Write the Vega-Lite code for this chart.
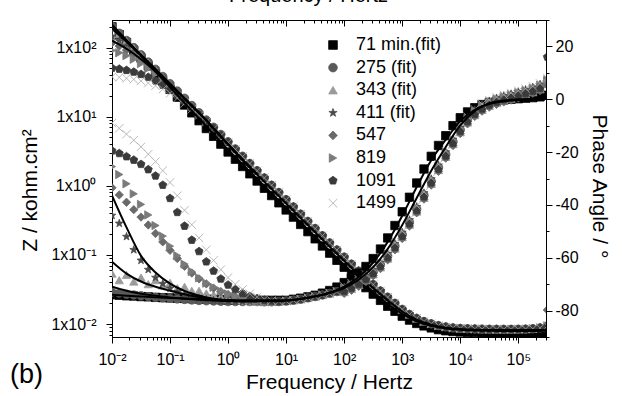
{
"$schema":"https://vega.github.io/schema/vega-lite/v6.json",
"width":434,"height":317,
"autosize":{"type":"none"},
"padding":{"left":112,"top":20,"right":76,"bottom":59},
"background":"white",
"config":{"view":{"stroke":"black","strokeWidth":1},
"axis":{"labelFont":"Liberation Sans","titleFont":"Liberation Sans","labelColor":"black","titleColor":"black","titleFontWeight":"normal","domainColor":"black","tickColor":"black","grid":false,"labelFontSize":16,"titleFontSize":21,"labelOverlap":false,"labelFlush":false},
"legend":{"labelFont":"Liberation Sans","labelColor":"black"},
"title":{"font":"Liberation Sans","fontWeight":"normal","color":"black"}},
"title":{"text":"(b)","orient":"bottom","anchor":"start","frame":"group","fontSize":27,"dx":-102,"offset":-30},
"datasets":{
"d":[
{"s":"71","f":0.01,"z":199.8,"p":-74},{"s":"71","f":0.01334,"z":153.9,"p":-74.2},{"s":"71","f":0.01778,"z":118.6,"p":-74.4},{"s":"71","f":0.02371,"z":91.3,"p":-74.5},{"s":"71","f":0.03162,"z":70.4,"p":-74.7},{"s":"71","f":0.04217,"z":54.2,"p":-74.8},{"s":"71","f":0.05623,"z":41.8,"p":-75},{"s":"71","f":0.07499,"z":32.2,"p":-75.1},{"s":"71","f":0.1,"z":24.8,"p":-75.2},{"s":"71","f":0.1334,"z":19.1,"p":-75.3},{"s":"71","f":0.1778,"z":14.72,"p":-75.4},{"s":"71","f":0.2371,"z":11.35,"p":-75.5},{"s":"71","f":0.3162,"z":8.74,"p":-75.6},{"s":"71","f":0.4217,"z":6.73,"p":-75.7},{"s":"71","f":0.5623,"z":5.19,"p":-75.8},{"s":"71","f":0.7499,"z":4,"p":-75.9},{"s":"71","f":1,"z":3.08,"p":-76},{"s":"71","f":1.334,"z":2.42,"p":-76.1},{"s":"71","f":1.778,"z":1.9,"p":-76.1},{"s":"71","f":2.371,"z":1.49,"p":-76.1},{"s":"71","f":3.162,"z":1.171,"p":-76.1},{"s":"71","f":4.217,"z":0.92,"p":-76.1},{"s":"71","f":5.623,"z":0.722,"p":-76.1},{"s":"71","f":7.499,"z":0.567,"p":-76.1},{"s":"71","f":10,"z":0.447,"p":-76.1},{"s":"71","f":13.34,"z":0.352,"p":-75.7},{"s":"71","f":17.78,"z":0.276,"p":-75.3},{"s":"71","f":23.71,"z":0.217,"p":-74.8},{"s":"71","f":31.62,"z":0.171,"p":-74.2},{"s":"71","f":42.17,"z":0.1346,"p":-73.4},{"s":"71","f":56.23,"z":0.106,"p":-72.4},{"s":"71","f":74.99,"z":0.0836,"p":-71.1},{"s":"71","f":100,"z":0.0663,"p":-69.4},{"s":"71","f":133.4,"z":0.0526,"p":-67.8},{"s":"71","f":177.8,"z":0.0419,"p":-65.8},{"s":"71","f":237.1,"z":0.0336,"p":-63.3},{"s":"71","f":316.2,"z":0.0271,"p":-60.3},{"s":"71","f":421.7,"z":0.022,"p":-56.7},{"s":"71","f":562.3,"z":0.0181,"p":-52.5},{"s":"71","f":749.9,"z":0.0153,"p":-47.8},{"s":"71","f":1000,"z":0.013,"p":-42.6},{"s":"71","f":1334,"z":0.0114,"p":-37.1},{"s":"71","f":1778,"z":0.0102,"p":-31.7},{"s":"71","f":2371,"z":0.0094,"p":-26.4},{"s":"71","f":3162,"z":0.0088,"p":-21.6},{"s":"71","f":4217,"z":0.0083,"p":-17.5},{"s":"71","f":5623,"z":0.008,"p":-13.8},{"s":"71","f":7499,"z":0.0078,"p":-10},{"s":"71","f":10000,"z":0.00768,"p":-7},{"s":"71","f":13340,"z":0.0076,"p":-4.8},{"s":"71","f":17780,"z":0.00752,"p":-3.2},{"s":"71","f":23710,"z":0.00748,"p":-2},{"s":"71","f":31620,"z":0.00745,"p":-1.2},{"s":"71","f":42170,"z":0.00742,"p":-0.7},{"s":"71","f":56230,"z":0.0074,"p":-0.3},{"s":"71","f":74990,"z":0.0074,"p":0},{"s":"71","f":100000,"z":0.0074,"p":0.2},{"s":"71","f":133400,"z":0.0074,"p":0.4},{"s":"71","f":177800,"z":0.0074,"p":0.6},{"s":"71","f":237100,"z":0.0074,"p":0.9},{"s":"71","f":316200,"z":0.00745,"p":1.5},
{"s":"275","f":0.01,"z":204.1,"p":-73},{"s":"275","f":0.01334,"z":161,"p":-73.4},{"s":"275","f":0.01778,"z":126.8,"p":-73.8},{"s":"275","f":0.02371,"z":99.85,"p":-74.1},{"s":"275","f":0.03162,"z":78.55,"p":-74.4},{"s":"275","f":0.04217,"z":61.77,"p":-74.7},{"s":"275","f":0.05623,"z":48.56,"p":-75},{"s":"275","f":0.07499,"z":38.16,"p":-75.2},{"s":"275","f":0.1,"z":30,"p":-75.4},{"s":"275","f":0.1334,"z":23.55,"p":-75.6},{"s":"275","f":0.1778,"z":18.5,"p":-75.8},{"s":"275","f":0.2371,"z":14.53,"p":-76},{"s":"275","f":0.3162,"z":11.42,"p":-76.2},{"s":"275","f":0.4217,"z":8.96,"p":-76.3},{"s":"275","f":0.5623,"z":7.04,"p":-76.4},{"s":"275","f":0.7499,"z":5.53,"p":-76.5},{"s":"275","f":1,"z":4.343,"p":-76.6},{"s":"275","f":1.334,"z":3.412,"p":-76.6},{"s":"275","f":1.778,"z":2.679,"p":-76.6},{"s":"275","f":2.371,"z":2.104,"p":-76.6},{"s":"275","f":3.162,"z":1.652,"p":-76.6},{"s":"275","f":4.217,"z":1.298,"p":-76.7},{"s":"275","f":5.623,"z":1.02,"p":-76.7},{"s":"275","f":7.499,"z":0.8015,"p":-76.6},{"s":"275","f":10,"z":0.63,"p":-76.4},{"s":"275","f":13.34,"z":0.495,"p":-76.1},{"s":"275","f":17.78,"z":0.389,"p":-75.7},{"s":"275","f":23.71,"z":0.306,"p":-75.2},{"s":"275","f":31.62,"z":0.241,"p":-74.7},{"s":"275","f":42.17,"z":0.1896,"p":-74.1},{"s":"275","f":56.23,"z":0.1493,"p":-73.5},{"s":"275","f":74.99,"z":0.1178,"p":-72.8},{"s":"275","f":100,"z":0.093,"p":-72},{"s":"275","f":133.4,"z":0.0736,"p":-70.8},{"s":"275","f":177.8,"z":0.0584,"p":-69.3},{"s":"275","f":237.1,"z":0.0466,"p":-67.5},{"s":"275","f":316.2,"z":0.0373,"p":-65.3},{"s":"275","f":421.7,"z":0.0301,"p":-62.6},{"s":"275","f":562.3,"z":0.0245,"p":-59.3},{"s":"275","f":749.9,"z":0.02,"p":-55.5},{"s":"275","f":1000,"z":0.0163,"p":-51.2},{"s":"275","f":1334,"z":0.0138,"p":-46.5},{"s":"275","f":1778,"z":0.0121,"p":-41.5},{"s":"275","f":2371,"z":0.0109,"p":-36.3},{"s":"275","f":3162,"z":0.0101,"p":-31},{"s":"275","f":4217,"z":0.0095,"p":-25.8},{"s":"275","f":5623,"z":0.0091,"p":-20.8},{"s":"275","f":7499,"z":0.0088,"p":-16},{"s":"275","f":10000,"z":0.00865,"p":-11.5},{"s":"275","f":13340,"z":0.00855,"p":-7.8},{"s":"275","f":17780,"z":0.0085,"p":-5},{"s":"275","f":23710,"z":0.00845,"p":-3},{"s":"275","f":31620,"z":0.00842,"p":-1.5},{"s":"275","f":42170,"z":0.0084,"p":-0.4},{"s":"275","f":56230,"z":0.0084,"p":0.5},{"s":"275","f":74990,"z":0.0084,"p":1.2},{"s":"275","f":100000,"z":0.00842,"p":2},{"s":"275","f":133400,"z":0.00846,"p":2.8},{"s":"275","f":177800,"z":0.00855,"p":3.7},{"s":"275","f":237100,"z":0.0088,"p":4.8},{"s":"275","f":316200,"z":0.0094,"p":6.8},
{"s":"343","f":0.01,"z":195.1,"p":-66},{"s":"343","f":0.01334,"z":155.7,"p":-68.5},{"s":"343","f":0.01778,"z":123.7,"p":-66.5},{"s":"343","f":0.02371,"z":98.02,"p":-69},{"s":"343","f":0.03162,"z":77.47,"p":-67.5},{"s":"343","f":0.04217,"z":61.11,"p":-70},{"s":"343","f":0.05623,"z":48.16,"p":-68.5},{"s":"343","f":0.07499,"z":37.92,"p":-70.5},{"s":"343","f":0.1,"z":29.85,"p":-69.5},{"s":"343","f":0.1334,"z":23.47,"p":-71.5},{"s":"343","f":0.1778,"z":18.46,"p":-71},{"s":"343","f":0.2371,"z":14.5,"p":-72.5},{"s":"343","f":0.3162,"z":11.39,"p":-72.5},{"s":"343","f":0.4217,"z":8.94,"p":-73.5},{"s":"343","f":0.5623,"z":7.02,"p":-74},{"s":"343","f":0.7499,"z":5.52,"p":-74.8},{"s":"343","f":1,"z":4.34,"p":-75.3},{"s":"343","f":1.334,"z":3.412,"p":-75.8},{"s":"343","f":1.778,"z":2.679,"p":-76.2},{"s":"343","f":2.371,"z":2.104,"p":-76.5},{"s":"343","f":3.162,"z":1.652,"p":-76.6},{"s":"343","f":4.217,"z":1.298,"p":-76.7},{"s":"343","f":5.623,"z":1.02,"p":-76.7},{"s":"343","f":7.499,"z":0.8015,"p":-76.6},{"s":"343","f":10,"z":0.63,"p":-76.4},{"s":"343","f":13.34,"z":0.495,"p":-76.1},{"s":"343","f":17.78,"z":0.389,"p":-75.7},{"s":"343","f":23.71,"z":0.306,"p":-75.2},{"s":"343","f":31.62,"z":0.241,"p":-74.7},{"s":"343","f":42.17,"z":0.1896,"p":-74.1},{"s":"343","f":56.23,"z":0.1493,"p":-73.5},{"s":"343","f":74.99,"z":0.1178,"p":-72.8},{"s":"343","f":100,"z":0.093,"p":-73},{"s":"343","f":133.4,"z":0.0736,"p":-71.8},{"s":"343","f":177.8,"z":0.0584,"p":-70.3},{"s":"343","f":237.1,"z":0.0466,"p":-68.5},{"s":"343","f":316.2,"z":0.0373,"p":-66.3},{"s":"343","f":421.7,"z":0.0301,"p":-63.6},{"s":"343","f":562.3,"z":0.0245,"p":-60.3},{"s":"343","f":749.9,"z":0.02,"p":-56.5},{"s":"343","f":1000,"z":0.0163,"p":-52.2},{"s":"343","f":1334,"z":0.0138,"p":-47.5},{"s":"343","f":1778,"z":0.0121,"p":-42.5},{"s":"343","f":2371,"z":0.0109,"p":-37.3},{"s":"343","f":3162,"z":0.0101,"p":-32},{"s":"343","f":4217,"z":0.0095,"p":-26.8},{"s":"343","f":5623,"z":0.0091,"p":-21.8},{"s":"343","f":7499,"z":0.0088,"p":-17},{"s":"343","f":10000,"z":0.00865,"p":-12.5},{"s":"343","f":13340,"z":0.00855,"p":-8.8},{"s":"343","f":17780,"z":0.0085,"p":-6},{"s":"343","f":23710,"z":0.00845,"p":-4},{"s":"343","f":31620,"z":0.00842,"p":-2.5},{"s":"343","f":42170,"z":0.0084,"p":-1.4},{"s":"343","f":56230,"z":0.0084,"p":-0.5},{"s":"343","f":74990,"z":0.0084,"p":0.2},{"s":"343","f":100000,"z":0.00842,"p":1},{"s":"343","f":133400,"z":0.00846,"p":1.8},{"s":"343","f":177800,"z":0.00855,"p":2.7},{"s":"343","f":237100,"z":0.0088,"p":3.8},{"s":"343","f":316200,"z":0.0094,"p":5.8},
{"s":"411","f":0.01,"z":144.7,"p":-44},{"s":"411","f":0.01334,"z":124.5,"p":-47},{"s":"411","f":0.01778,"z":104.9,"p":-52},{"s":"411","f":0.02371,"z":86.88,"p":-57},{"s":"411","f":0.03162,"z":70.94,"p":-61},{"s":"411","f":0.04217,"z":57.32,"p":-64.5},{"s":"411","f":0.05623,"z":45.95,"p":-67.5},{"s":"411","f":0.07499,"z":36.63,"p":-69.8},{"s":"411","f":0.1,"z":29.08,"p":-71.6},{"s":"411","f":0.1334,"z":23.02,"p":-72.9},{"s":"411","f":0.1778,"z":18.19,"p":-73.9},{"s":"411","f":0.2371,"z":14.34,"p":-74.7},{"s":"411","f":0.3162,"z":11.3,"p":-75.3},{"s":"411","f":0.4217,"z":8.897,"p":-75.8},{"s":"411","f":0.5623,"z":7,"p":-76.2},{"s":"411","f":0.7499,"z":5.505,"p":-76.4},{"s":"411","f":1,"z":4.327,"p":-76.5},{"s":"411","f":1.334,"z":3.412,"p":-76.6},{"s":"411","f":1.778,"z":2.679,"p":-76.6},{"s":"411","f":2.371,"z":2.104,"p":-76.6},{"s":"411","f":3.162,"z":1.652,"p":-76.6},{"s":"411","f":4.217,"z":1.298,"p":-76.7},{"s":"411","f":5.623,"z":1.02,"p":-76.7},{"s":"411","f":7.499,"z":0.8015,"p":-76.6},{"s":"411","f":10,"z":0.63,"p":-76.4},{"s":"411","f":13.34,"z":0.495,"p":-76.1},{"s":"411","f":17.78,"z":0.389,"p":-75.7},{"s":"411","f":23.71,"z":0.306,"p":-75.2},{"s":"411","f":31.62,"z":0.241,"p":-74.7},{"s":"411","f":42.17,"z":0.1896,"p":-74.1},{"s":"411","f":56.23,"z":0.1493,"p":-73.5},{"s":"411","f":74.99,"z":0.1178,"p":-72.8},{"s":"411","f":100,"z":0.093,"p":-71.2},{"s":"411","f":133.4,"z":0.0736,"p":-70},{"s":"411","f":177.8,"z":0.0584,"p":-68.5},{"s":"411","f":237.1,"z":0.0466,"p":-66.7},{"s":"411","f":316.2,"z":0.0373,"p":-64.5},{"s":"411","f":421.7,"z":0.0301,"p":-61.8},{"s":"411","f":562.3,"z":0.0245,"p":-58.5},{"s":"411","f":749.9,"z":0.02,"p":-54.7},{"s":"411","f":1000,"z":0.0163,"p":-50.4},{"s":"411","f":1334,"z":0.0138,"p":-45.7},{"s":"411","f":1778,"z":0.0121,"p":-40.7},{"s":"411","f":2371,"z":0.0109,"p":-35.5},{"s":"411","f":3162,"z":0.0101,"p":-30.2},{"s":"411","f":4217,"z":0.0095,"p":-25},{"s":"411","f":5623,"z":0.0091,"p":-20},{"s":"411","f":7499,"z":0.0088,"p":-15.2},{"s":"411","f":10000,"z":0.00865,"p":-10.7},{"s":"411","f":13340,"z":0.00855,"p":-7},{"s":"411","f":17780,"z":0.0085,"p":-4.2},{"s":"411","f":23710,"z":0.00845,"p":-2.2},{"s":"411","f":31620,"z":0.00842,"p":-0.7},{"s":"411","f":42170,"z":0.0084,"p":0.4},{"s":"411","f":56230,"z":0.0084,"p":1.3},{"s":"411","f":74990,"z":0.0084,"p":2},{"s":"411","f":100000,"z":0.00842,"p":2.8},{"s":"411","f":133400,"z":0.00846,"p":3.6},{"s":"411","f":177800,"z":0.00855,"p":4.5},{"s":"411","f":237100,"z":0.0088,"p":5.6},{"s":"411","f":316200,"z":0.0094,"p":7.6},
{"s":"547","f":0.01,"z":117.1,"p":-33.5},{"s":"547","f":0.01334,"z":104.9,"p":-36.2},{"s":"547","f":0.01778,"z":91.73,"p":-39},{"s":"547","f":0.02371,"z":78.46,"p":-41.8},{"s":"547","f":0.03162,"z":65.77,"p":-44.6},{"s":"547","f":0.04217,"z":54.23,"p":-47.6},{"s":"547","f":0.05623,"z":44.13,"p":-50.8},{"s":"547","f":0.07499,"z":35.57,"p":-54},{"s":"547","f":0.1,"z":28.47,"p":-57.2},{"s":"547","f":0.1334,"z":22.66,"p":-60.3},{"s":"547","f":0.1778,"z":17.98,"p":-63.2},{"s":"547","f":0.2371,"z":14.22,"p":-65.8},{"s":"547","f":0.3162,"z":11.23,"p":-68},{"s":"547","f":0.4217,"z":8.853,"p":-69.9},{"s":"547","f":0.5623,"z":6.974,"p":-71.5},{"s":"547","f":0.7499,"z":5.49,"p":-72.8},{"s":"547","f":1,"z":4.318,"p":-73.9},{"s":"547","f":1.334,"z":3.395,"p":-74.8},{"s":"547","f":1.778,"z":2.668,"p":-75.5},{"s":"547","f":2.371,"z":2.104,"p":-76},{"s":"547","f":3.162,"z":1.652,"p":-76.5},{"s":"547","f":4.217,"z":1.298,"p":-76.7},{"s":"547","f":5.623,"z":1.02,"p":-76.7},{"s":"547","f":7.499,"z":0.8015,"p":-76.6},{"s":"547","f":10,"z":0.63,"p":-76.4},{"s":"547","f":13.34,"z":0.495,"p":-76.1},{"s":"547","f":17.78,"z":0.389,"p":-75.7},{"s":"547","f":23.71,"z":0.306,"p":-75.2},{"s":"547","f":31.62,"z":0.241,"p":-74.7},{"s":"547","f":42.17,"z":0.1896,"p":-74.1},{"s":"547","f":56.23,"z":0.1493,"p":-73.5},{"s":"547","f":74.99,"z":0.1178,"p":-72.8},{"s":"547","f":100,"z":0.093,"p":-73.5},{"s":"547","f":133.4,"z":0.0736,"p":-72.3},{"s":"547","f":177.8,"z":0.0584,"p":-70.8},{"s":"547","f":237.1,"z":0.0466,"p":-69},{"s":"547","f":316.2,"z":0.0373,"p":-66.8},{"s":"547","f":421.7,"z":0.0301,"p":-64.1},{"s":"547","f":562.3,"z":0.0245,"p":-60.8},{"s":"547","f":749.9,"z":0.02,"p":-57},{"s":"547","f":1000,"z":0.0163,"p":-52.7},{"s":"547","f":1334,"z":0.0138,"p":-48},{"s":"547","f":1778,"z":0.0121,"p":-43},{"s":"547","f":2371,"z":0.0109,"p":-37.8},{"s":"547","f":3162,"z":0.0101,"p":-32.5},{"s":"547","f":4217,"z":0.0095,"p":-27.3},{"s":"547","f":5623,"z":0.0091,"p":-22.3},{"s":"547","f":7499,"z":0.0088,"p":-17.5},{"s":"547","f":10000,"z":0.00865,"p":-13},{"s":"547","f":13340,"z":0.00855,"p":-9.3},{"s":"547","f":17780,"z":0.0085,"p":-6.5},{"s":"547","f":23710,"z":0.00845,"p":-4.5},{"s":"547","f":31620,"z":0.00842,"p":-3},{"s":"547","f":42170,"z":0.0084,"p":-1.9},{"s":"547","f":56230,"z":0.0084,"p":-1},{"s":"547","f":74990,"z":0.0084,"p":-0.3},{"s":"547","f":100000,"z":0.00842,"p":0.5},{"s":"547","f":133400,"z":0.00846,"p":1.3},{"s":"547","f":177800,"z":0.00855,"p":2.2},{"s":"547","f":237100,"z":0.0088,"p":3.3},{"s":"547","f":316200,"z":0.016,"p":5.3},
{"s":"819","f":0.01,"z":90.5,"p":-25.5},{"s":"819","f":0.01334,"z":83.97,"p":-28.5},{"s":"819","f":0.01778,"z":76.27,"p":-32},{"s":"819","f":0.02371,"z":67.69,"p":-35.8},{"s":"819","f":0.03162,"z":58.67,"p":-39.8},{"s":"819","f":0.04217,"z":49.76,"p":-43.8},{"s":"819","f":0.05623,"z":41.42,"p":-47.8},{"s":"819","f":0.07499,"z":33.96,"p":-51.8},{"s":"819","f":0.1,"z":27.52,"p":-55.6},{"s":"819","f":0.1334,"z":22.11,"p":-59.2},{"s":"819","f":0.1778,"z":17.66,"p":-62.4},{"s":"819","f":0.2371,"z":14.03,"p":-65.2},{"s":"819","f":0.3162,"z":11.12,"p":-67.6},{"s":"819","f":0.4217,"z":8.79,"p":-69.6},{"s":"819","f":0.5623,"z":6.94,"p":-71.2},{"s":"819","f":0.7499,"z":5.47,"p":-72.6},{"s":"819","f":1,"z":4.305,"p":-73.7},{"s":"819","f":1.334,"z":3.387,"p":-74.6},{"s":"819","f":1.778,"z":2.664,"p":-75.3},{"s":"819","f":2.371,"z":2.095,"p":-75.9},{"s":"819","f":3.162,"z":1.646,"p":-76.4},{"s":"819","f":4.217,"z":1.298,"p":-76.7},{"s":"819","f":5.623,"z":1.02,"p":-76.7},{"s":"819","f":7.499,"z":0.8015,"p":-76.6},{"s":"819","f":10,"z":0.63,"p":-76.4},{"s":"819","f":13.34,"z":0.495,"p":-76.1},{"s":"819","f":17.78,"z":0.389,"p":-75.7},{"s":"819","f":23.71,"z":0.306,"p":-75.2},{"s":"819","f":31.62,"z":0.241,"p":-74.7},{"s":"819","f":42.17,"z":0.1896,"p":-74.1},{"s":"819","f":56.23,"z":0.1493,"p":-73.5},{"s":"819","f":74.99,"z":0.1178,"p":-72.8},{"s":"819","f":100,"z":0.093,"p":-71.5},{"s":"819","f":133.4,"z":0.0736,"p":-70.3},{"s":"819","f":177.8,"z":0.0584,"p":-68.8},{"s":"819","f":237.1,"z":0.0466,"p":-67},{"s":"819","f":316.2,"z":0.0373,"p":-64.8},{"s":"819","f":421.7,"z":0.0301,"p":-62.1},{"s":"819","f":562.3,"z":0.0245,"p":-58.8},{"s":"819","f":749.9,"z":0.02,"p":-55},{"s":"819","f":1000,"z":0.0163,"p":-50.7},{"s":"819","f":1334,"z":0.0138,"p":-46},{"s":"819","f":1778,"z":0.0121,"p":-41},{"s":"819","f":2371,"z":0.0109,"p":-35.8},{"s":"819","f":3162,"z":0.0101,"p":-30.5},{"s":"819","f":4217,"z":0.0095,"p":-25.3},{"s":"819","f":5623,"z":0.0091,"p":-20.3},{"s":"819","f":7499,"z":0.0088,"p":-15.5},{"s":"819","f":10000,"z":0.00865,"p":-11},{"s":"819","f":13340,"z":0.00855,"p":-7.3},{"s":"819","f":17780,"z":0.0085,"p":-4.5},{"s":"819","f":23710,"z":0.00845,"p":-2.5},{"s":"819","f":31620,"z":0.00842,"p":-1},{"s":"819","f":42170,"z":0.0084,"p":0.1},{"s":"819","f":56230,"z":0.0084,"p":1},{"s":"819","f":74990,"z":0.0084,"p":1.7},{"s":"819","f":100000,"z":0.00842,"p":2.5},{"s":"819","f":133400,"z":0.00846,"p":3.3},{"s":"819","f":177800,"z":0.00855,"p":4.2},{"s":"819","f":237100,"z":0.0088,"p":5.3},{"s":"819","f":316200,"z":0.0094,"p":7.3},
{"s":"1091","f":0.01,"z":50.4,"p":-19.5},{"s":"1091","f":0.01334,"z":48.9,"p":-20.5},{"s":"1091","f":0.01778,"z":46.9,"p":-21.7},{"s":"1091","f":0.02371,"z":44.3,"p":-23},{"s":"1091","f":0.03162,"z":41,"p":-24.6},{"s":"1091","f":0.04217,"z":37.2,"p":-26.6},{"s":"1091","f":0.05623,"z":33,"p":-29},{"s":"1091","f":0.07499,"z":28.56,"p":-32.5},{"s":"1091","f":0.1,"z":24.19,"p":-37.5},{"s":"1091","f":0.1334,"z":20.11,"p":-42.8},{"s":"1091","f":0.1778,"z":16.49,"p":-48},{"s":"1091","f":0.2371,"z":13.35,"p":-53.3},{"s":"1091","f":0.3162,"z":10.72,"p":-57.6},{"s":"1091","f":0.4217,"z":8.559,"p":-61.5},{"s":"1091","f":0.5623,"z":6.8,"p":-65},{"s":"1091","f":0.7499,"z":5.389,"p":-68},{"s":"1091","f":1,"z":4.259,"p":-70.3},{"s":"1091","f":1.334,"z":3.36,"p":-72},{"s":"1091","f":1.778,"z":2.65,"p":-73.5},{"s":"1091","f":2.371,"z":2.104,"p":-74.6},{"s":"1091","f":3.162,"z":1.652,"p":-75.4},{"s":"1091","f":4.217,"z":1.298,"p":-76},{"s":"1091","f":5.623,"z":1.02,"p":-76.3},{"s":"1091","f":7.499,"z":0.8015,"p":-76.6},{"s":"1091","f":10,"z":0.63,"p":-76.4},{"s":"1091","f":13.34,"z":0.495,"p":-76.1},{"s":"1091","f":17.78,"z":0.389,"p":-75.7},{"s":"1091","f":23.71,"z":0.306,"p":-75.2},{"s":"1091","f":31.62,"z":0.241,"p":-74.7},{"s":"1091","f":42.17,"z":0.1896,"p":-74.1},{"s":"1091","f":56.23,"z":0.1493,"p":-73.5},{"s":"1091","f":74.99,"z":0.1178,"p":-72.8},{"s":"1091","f":100,"z":0.093,"p":-72.6},{"s":"1091","f":133.4,"z":0.0736,"p":-71.4},{"s":"1091","f":177.8,"z":0.0584,"p":-69.9},{"s":"1091","f":237.1,"z":0.0466,"p":-68.1},{"s":"1091","f":316.2,"z":0.0373,"p":-65.9},{"s":"1091","f":421.7,"z":0.0301,"p":-63.2},{"s":"1091","f":562.3,"z":0.0245,"p":-59.9},{"s":"1091","f":749.9,"z":0.02,"p":-56.1},{"s":"1091","f":1000,"z":0.0163,"p":-51.8},{"s":"1091","f":1334,"z":0.0138,"p":-47.1},{"s":"1091","f":1778,"z":0.0121,"p":-42.1},{"s":"1091","f":2371,"z":0.0109,"p":-36.9},{"s":"1091","f":3162,"z":0.0101,"p":-31.6},{"s":"1091","f":4217,"z":0.0095,"p":-26.4},{"s":"1091","f":5623,"z":0.0091,"p":-21.4},{"s":"1091","f":7499,"z":0.0088,"p":-16.6},{"s":"1091","f":10000,"z":0.00865,"p":-12.1},{"s":"1091","f":13340,"z":0.00855,"p":-8.4},{"s":"1091","f":17780,"z":0.0085,"p":-5.6},{"s":"1091","f":23710,"z":0.00845,"p":-3.6},{"s":"1091","f":31620,"z":0.00842,"p":-2.1},{"s":"1091","f":42170,"z":0.0084,"p":-1},{"s":"1091","f":56230,"z":0.0084,"p":-0.1},{"s":"1091","f":74990,"z":0.0084,"p":0.6},{"s":"1091","f":100000,"z":0.00842,"p":1.4},{"s":"1091","f":133400,"z":0.00846,"p":2.2},{"s":"1091","f":177800,"z":0.00855,"p":3.1},{"s":"1091","f":237100,"z":0.0088,"p":4.2},{"s":"1091","f":316200,"z":0.0094,"p":16},
{"s":"1499","f":0.01,"z":37.7,"p":-9},{"s":"1499","f":0.01334,"z":36.98,"p":-11},{"s":"1499","f":0.01778,"z":35.95,"p":-13.2},{"s":"1499","f":0.02371,"z":34.6,"p":-15.5},{"s":"1499","f":0.03162,"z":32.84,"p":-18},{"s":"1499","f":0.04217,"z":30.64,"p":-20.8},{"s":"1499","f":0.05623,"z":27.99,"p":-23.6},{"s":"1499","f":0.07499,"z":24.99,"p":-27},{"s":"1499","f":0.1,"z":21.79,"p":-31.5},{"s":"1499","f":0.1334,"z":18.58,"p":-36.5},{"s":"1499","f":0.1778,"z":15.54,"p":-42},{"s":"1499","f":0.2371,"z":12.78,"p":-47.5},{"s":"1499","f":0.3162,"z":10.39,"p":-52.5},{"s":"1499","f":0.4217,"z":8.366,"p":-57},{"s":"1499","f":0.5623,"z":6.69,"p":-61},{"s":"1499","f":0.7499,"z":5.323,"p":-64.5},{"s":"1499","f":1,"z":4.22,"p":-67.5},{"s":"1499","f":1.334,"z":3.36,"p":-70},{"s":"1499","f":1.778,"z":2.65,"p":-72},{"s":"1499","f":2.371,"z":2.104,"p":-73.6},{"s":"1499","f":3.162,"z":1.652,"p":-74.8},{"s":"1499","f":4.217,"z":1.298,"p":-75.7},{"s":"1499","f":5.623,"z":1.02,"p":-76.2},{"s":"1499","f":7.499,"z":0.8015,"p":-76.5},{"s":"1499","f":10,"z":0.63,"p":-76.4},{"s":"1499","f":13.34,"z":0.495,"p":-76.1},{"s":"1499","f":17.78,"z":0.389,"p":-75.7},{"s":"1499","f":23.71,"z":0.306,"p":-75.2},{"s":"1499","f":31.62,"z":0.241,"p":-74.7},{"s":"1499","f":42.17,"z":0.1896,"p":-74.1},{"s":"1499","f":56.23,"z":0.1493,"p":-73.5},{"s":"1499","f":74.99,"z":0.1178,"p":-72.8},{"s":"1499","f":100,"z":0.093,"p":-70.8},{"s":"1499","f":133.4,"z":0.0736,"p":-69.6},{"s":"1499","f":177.8,"z":0.0584,"p":-68.1},{"s":"1499","f":237.1,"z":0.0466,"p":-66.3},{"s":"1499","f":316.2,"z":0.0373,"p":-64.1},{"s":"1499","f":421.7,"z":0.0301,"p":-61.4},{"s":"1499","f":562.3,"z":0.0245,"p":-58.1},{"s":"1499","f":749.9,"z":0.02,"p":-54.3},{"s":"1499","f":1000,"z":0.0163,"p":-50},{"s":"1499","f":1334,"z":0.0138,"p":-45.3},{"s":"1499","f":1778,"z":0.0121,"p":-40.3},{"s":"1499","f":2371,"z":0.0109,"p":-35.1},{"s":"1499","f":3162,"z":0.0101,"p":-29.8},{"s":"1499","f":4217,"z":0.0095,"p":-24.6},{"s":"1499","f":5623,"z":0.0091,"p":-19.6},{"s":"1499","f":7499,"z":0.0088,"p":-14.8},{"s":"1499","f":10000,"z":0.00865,"p":-10.3},{"s":"1499","f":13340,"z":0.00855,"p":-6.6},{"s":"1499","f":17780,"z":0.0085,"p":-3.8},{"s":"1499","f":23710,"z":0.00845,"p":-1.8},{"s":"1499","f":31620,"z":0.00842,"p":-0.3},{"s":"1499","f":42170,"z":0.0084,"p":0.8},{"s":"1499","f":56230,"z":0.0084,"p":1.7},{"s":"1499","f":74990,"z":0.0084,"p":2.4},{"s":"1499","f":100000,"z":0.00842,"p":3.2},{"s":"1499","f":133400,"z":0.00846,"p":4},{"s":"1499","f":177800,"z":0.00855,"p":4.9},{"s":"1499","f":237100,"z":0.0088,"p":6},{"s":"1499","f":316200,"z":0.0094,"p":8}
],
"fit":[
{"s":"71","f":0.01,"z":214.8,"p":-74},{"s":"71","f":0.01778,"z":127.5,"p":-74.4},{"s":"71","f":0.03162,"z":75.7,"p":-74.7},{"s":"71","f":0.05623,"z":44.9,"p":-75},{"s":"71","f":0.1,"z":26.7,"p":-75.2},{"s":"71","f":0.1778,"z":15.83,"p":-75.4},{"s":"71","f":0.3162,"z":9.4,"p":-75.6},{"s":"71","f":0.5623,"z":5.58,"p":-75.8},{"s":"71","f":1,"z":3.31,"p":-76},{"s":"71","f":1.778,"z":2.042,"p":-76.1},{"s":"71","f":3.162,"z":1.259,"p":-76.1},{"s":"71","f":5.623,"z":0.776,"p":-76.1},{"s":"71","f":10,"z":0.481,"p":-76.1},{"s":"71","f":17.78,"z":0.297,"p":-75.5},{"s":"71","f":31.62,"z":0.1838,"p":-74.6},{"s":"71","f":56.23,"z":0.114,"p":-73.2},{"s":"71","f":100,"z":0.0713,"p":-70.9},{"s":"71","f":177.8,"z":0.0451,"p":-67.3},{"s":"71","f":316.2,"z":0.0291,"p":-61.8},{"s":"71","f":562.3,"z":0.0195,"p":-54},{"s":"71","f":1000,"z":0.014,"p":-44.1},{"s":"71","f":1778,"z":0.011,"p":-33.2},{"s":"71","f":3162,"z":0.00942,"p":-23.1},{"s":"71","f":5623,"z":0.00864,"p":-15.3},{"s":"71","f":10000,"z":0.00825,"p":-8.3},{"s":"71","f":17780,"z":0.00808,"p":-4},{"s":"71","f":31620,"z":0.008,"p":-1.8},{"s":"71","f":56230,"z":0.00796,"p":-0.8},{"s":"71","f":100000,"z":0.00795,"p":-0.3},{"s":"71","f":177800,"z":0.00795,"p":-0.1},{"s":"71","f":316200,"z":0.008,"p":0.2},
{"s":"275","f":0.01,"z":204.1,"p":-71},{"s":"275","f":0.01778,"z":126.8,"p":-72.5},{"s":"275","f":0.03162,"z":78.55,"p":-73.6},{"s":"275","f":0.05623,"z":48.56,"p":-74.4},{"s":"275","f":0.1,"z":30,"p":-75},{"s":"275","f":0.1778,"z":18.5,"p":-75.5},{"s":"275","f":0.3162,"z":11.42,"p":-75.9},{"s":"275","f":0.5623,"z":6.75,"p":-76.2},{"s":"275","f":1,"z":3.98,"p":-76.5},{"s":"275","f":1.778,"z":2.36,"p":-76.5},{"s":"275","f":3.162,"z":1.456,"p":-76.5},{"s":"275","f":5.623,"z":0.898,"p":-76.5},{"s":"275","f":10,"z":0.5555,"p":-76.25},{"s":"275","f":17.78,"z":0.343,"p":-75.6},{"s":"275","f":31.62,"z":0.2124,"p":-74.65},{"s":"275","f":56.23,"z":0.1317,"p":-73.35},{"s":"275","f":100,"z":0.0822,"p":-71.45},{"s":"275","f":177.8,"z":0.0518,"p":-68.3},{"s":"275","f":316.2,"z":0.0332,"p":-63.55},{"s":"275","f":562.3,"z":0.022,"p":-56.65},{"s":"275","f":1000,"z":0.0152,"p":-47.65},{"s":"275","f":1778,"z":0.01155,"p":-37.35},{"s":"275","f":3162,"z":0.00976,"p":-27.05},{"s":"275","f":5623,"z":0.00887,"p":-18.05},{"s":"275","f":10000,"z":0.00845,"p":-9.9},{"s":"275","f":17780,"z":0.00829,"p":-4.5},{"s":"275","f":31620,"z":0.00821,"p":-1.5},{"s":"275","f":56230,"z":0.00818,"p":-0.5},{"s":"275","f":100000,"z":0.00818,"p":0},{"s":"275","f":177800,"z":0.00822,"p":0.2},{"s":"275","f":316200,"z":0.0083,"p":0.5},
{"s":"343","f":0.01,"z":188,"p":-61.5},{"s":"343","f":0.01778,"z":121.5,"p":-66},{"s":"343","f":0.03162,"z":76.5,"p":-69},{"s":"343","f":0.05623,"z":47.8,"p":-71},{"s":"343","f":0.1,"z":29.7,"p":-72.5},{"s":"343","f":0.1778,"z":18.4,"p":-73.8},{"s":"343","f":0.3162,"z":11.4,"p":-74.9},{"s":"343","f":0.5623,"z":6.75,"p":-75.7},{"s":"343","f":1,"z":3.98,"p":-76.3},{"s":"343","f":1.778,"z":2.36,"p":-76.5},{"s":"343","f":3.162,"z":1.456,"p":-76.5},
{"s":"411","f":0.01,"z":125.4,"p":-36.4},{"s":"411","f":0.01778,"z":95.95,"p":-48.5},{"s":"411","f":0.03162,"z":67.5,"p":-59.3},{"s":"411","f":0.05623,"z":44.75,"p":-65.6},{"s":"411","f":0.1,"z":28.68,"p":-69.8},{"s":"411","f":0.1778,"z":18.05,"p":-72.6},{"s":"411","f":0.3162,"z":11.25,"p":-74.4},{"s":"411","f":0.5623,"z":6.75,"p":-75.5},{"s":"411","f":1,"z":3.98,"p":-76.2},{"s":"411","f":1.778,"z":2.36,"p":-76.5},{"s":"411","f":3.162,"z":1.456,"p":-76.5}
]},
"layer":[
{"data":{"name":"d"},"mark":{"type":"point","filled":true,"size":70,"opacity":1,"strokeWidth":0.8,"clip":true},
"encoding":{
"x":{"field":"f","type":"quantitative","title":"Frequency / Hertz","scale":{"type":"log","domain":[0.01,300000],"nice":false},
"axis":{"orient":"bottom","values":[0.01,0.02,0.03,0.04,0.05,0.06,0.07,0.08,0.09,0.1,0.2,0.3,0.4,0.5,0.6,0.7,0.8,0.9,1,2,3,4,5,6,7,8,9,10,20,30,40,50,60,70,80,90,100,200,300,400,500,600,700,800,900,1000,2000,3000,4000,5000,6000,7000,8000,9000,10000,20000,30000,40000,50000,60000,70000,80000,90000,100000,200000,300000],
"labelExpr":"datum.value==0.01?'10⁻²':datum.value==0.1?'10⁻¹':datum.value==1?'10⁰':datum.value==10?'10¹':datum.value==100?'10²':datum.value==1000?'10³':datum.value==10000?'10⁴':datum.value==100000?'10⁵':''",
"tickSize":{"condition":{"test":"indexof([0.01,0.1,1,10,100,1000,10000,100000],datum.value)>=0","value":6},"value":3},
"labelPadding":8,"titlePadding":4}},
"y":{"field":"z","type":"quantitative","title":"Z / kohm.cm²","scale":{"type":"log","domain":[0.0065,250],"nice":false},
"axis":{"orient":"left","values":[0.007,0.008,0.009,0.01,0.02,0.03,0.04,0.05,0.06,0.07,0.08,0.09,0.1,0.2,0.3,0.4,0.5,0.6,0.7,0.8,0.9,1,2,3,4,5,6,7,8,9,10,20,30,40,50,60,70,80,90,100,200],
"labelExpr":"datum.value==100?'1x10²':datum.value==10?'1x10¹':datum.value==1?'1x10⁰':datum.value==0.1?'1x10⁻¹':datum.value==0.01?'1x10⁻²':''",
"tickSize":{"condition":{"test":"indexof([0.01,0.1,1,10,100],datum.value)>=0","value":6},"value":3},
"labelPadding":10,"titleX":-82,"titleY":170,"titleBaseline":"middle","titleAngle":-90}},
"fill":{"field":"s","type":"nominal","scale":{"domain":["71","275","343","411","547","819","1091","1499"],"range":["#000000","#5a5a5a","#9a9a9a","#4a4a4a","#6a6a6a","#7a7a7a","#3a3a3a","#a8a8a8"]},
"legend":{"orient":"none","legendX":212,"legendY":16,"title":null,"labelFontSize":18,"symbolSize":75,"rowPadding":4.6,"labelOffset":14,"padding":0,"labelLimit":300,"symbolStrokeWidth":0.8,
"labelExpr":"datum.label=='71'?'71 min.(fit)':(datum.label=='275'||datum.label=='343'||datum.label=='411')?datum.label+' (fit)':datum.label"}},
"stroke":{"field":"s","type":"nominal","scale":{"domain":["71","275","343","411","547","819","1091","1499"],"range":["#000000","#5a5a5a","#9a9a9a","#4a4a4a","#6a6a6a","#7a7a7a","#3a3a3a","#a8a8a8"]}},
"shape":{"field":"s","type":"nominal","scale":{"domain":["71","275","343","411","547","819","1091","1499"],"range":["square","circle","triangle-up","M0,-1L0.235,-0.324L0.951,-0.309L0.38,0.124L0.588,0.809L0,0.4L-0.588,0.809L-0.38,0.124L-0.951,-0.309L-0.235,-0.324Z","diamond","triangle-right","M0,-1L0.951,-0.309L0.588,0.809L-0.588,0.809L-0.951,-0.309Z","M-1,-1L1,1M-1,1L1,-1"]}}
}},
{"data":{"name":"fit"},"mark":{"type":"line","color":"black","strokeWidth":2,"interpolate":"monotone","clip":true},
"encoding":{"x":{"field":"f","type":"quantitative","axis":null},"y":{"field":"z","type":"quantitative","scale":{"type":"log","domain":[0.0065,250],"nice":false},"axis":null},"detail":{"field":"s","type":"nominal"}}},
{"data":{"name":"d"},"mark":{"type":"point","filled":true,"size":70,"opacity":1,"strokeWidth":0.8,"clip":true},
"encoding":{
"x":{"field":"f","type":"quantitative","title":"Frequency / Hertz",
"axis":{"orient":"top","values":[0.01,0.02,0.03,0.04,0.05,0.06,0.07,0.08,0.09,0.1,0.2,0.3,0.4,0.5,0.6,0.7,0.8,0.9,1,2,3,4,5,6,7,8,9,10,20,30,40,50,60,70,80,90,100,200,300,400,500,600,700,800,900,1000,2000,3000,4000,5000,6000,7000,8000,9000,10000,20000,30000,40000,50000,60000,70000,80000,90000,100000,200000,300000],
"labels":false,"domain":true,"ticks":true,"domainColor":"black","tickColor":"black","zindex":2,
"tickSize":{"condition":{"test":"indexof([0.01,0.1,1,10,100,1000,10000,100000],datum.value)>=0","value":-6},"value":-3},
"titleX":196,"titleY":-19,"titleBaseline":"alphabetic","titleFontSize":20}},
"y":{"field":"p","type":"quantitative","title":"Phase Angle / °","scale":{"domain":[-90,30],"nice":false,"zero":false},
"axis":{"orient":"right","values":[-90,-80,-70,-60,-50,-40,-30,-20,-10,0,10,20,30],"domain":true,"ticks":true,"domainColor":"black","tickColor":"black","zindex":2,
"labelExpr":"datum.value % 20 == 0 && datum.value > -90 && datum.value < 30 ? (datum.value < 0 ? '-' + abs(datum.value) : '' + datum.value) : ''",
"tickSize":{"condition":{"test":"datum.value % 20 == 0","value":6},"value":3},
"labelPadding":3,"titleX":52,"titleY":166,"titleBaseline":"middle","titleAngle":90}},
"fill":{"field":"s","type":"nominal"},
"stroke":{"field":"s","type":"nominal"},
"shape":{"field":"s","type":"nominal"}
}},
{"data":{"name":"fit"},"mark":{"type":"line","color":"black","strokeWidth":2,"interpolate":"monotone","clip":true},
"encoding":{"x":{"field":"f","type":"quantitative","axis":null},"y":{"field":"p","type":"quantitative","scale":{"domain":[-90,30],"nice":false,"zero":false},"axis":null},"detail":{"field":"s","type":"nominal"}}}
],
"resolve":{"scale":{"y":"independent"},"axis":{"x":"independent","y":"independent"}}
}
